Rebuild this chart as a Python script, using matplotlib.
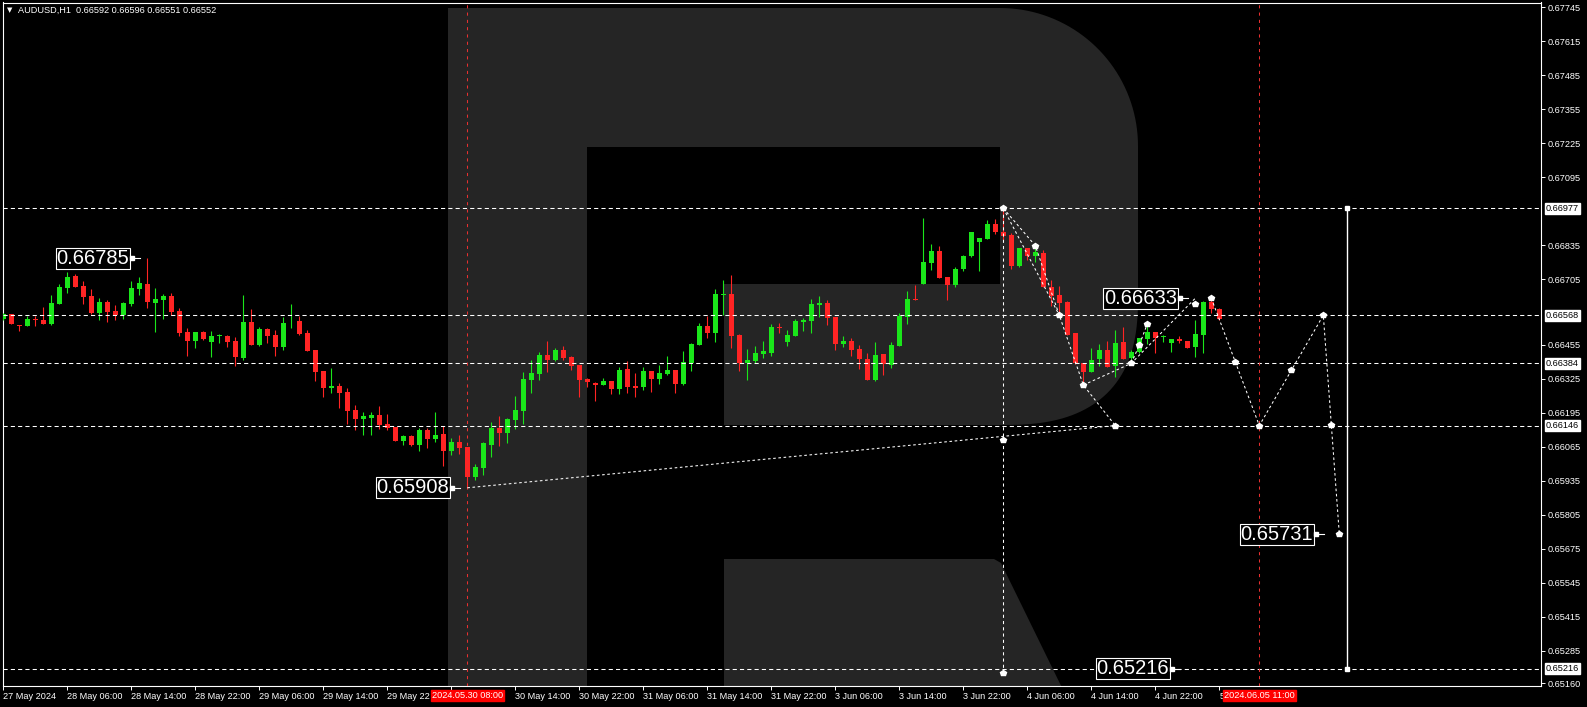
import numpy as np
import matplotlib.pyplot as plt
from matplotlib.patches import Polygon
from matplotlib.transforms import Affine2D

plt.rcParams['font.family'] = ['Liberation Sans', 'DejaVu Sans']

W, H = 1587, 707

# AUDUSD H1 bars, 27 May 22:00 -> 5 Jun 06:00 (weekend skipped)
opens = [0.66554, 0.66572, 0.66530, 0.66528, 0.66553, 0.66550, 0.66535, 0.66612, 0.66674, 0.66718,
         0.66680, 0.66642, 0.66577, 0.66619, 0.66584, 0.66568, 0.66611, 0.66669, 0.66688, 0.66615,
         0.66627, 0.66642, 0.66584, 0.66504, 0.66471, 0.66504, 0.66466, 0.66488, 0.66489, 0.66470,
         0.66405, 0.66542, 0.66454, 0.66516, 0.66493, 0.66447, 0.66537, 0.66546, 0.66500, 0.66435,
         0.66355, 0.66291, 0.66299, 0.66275, 0.66206, 0.66171, 0.66175, 0.66187, 0.66152, 0.66141,
         0.66087, 0.66106, 0.66072, 0.66129, 0.66095, 0.66114, 0.66049, 0.66083, 0.66064, 0.65950,
         0.65984, 0.66072, 0.66137, 0.66118, 0.66168, 0.66202, 0.66321, 0.66344, 0.66416, 0.66397,
         0.66435, 0.66409, 0.66378, 0.66324, 0.66309, 0.66302, 0.66317, 0.66286, 0.66363, 0.66298,
         0.66294, 0.66355, 0.66324, 0.66344, 0.66359, 0.66305, 0.66386, 0.66454, 0.66527, 0.66500,
         0.66647, 0.66649, 0.66493, 0.66386, 0.66393, 0.66420, 0.66424, 0.66523, 0.66466, 0.66489,
         0.66542, 0.66546, 0.66607, 0.66615, 0.66562, 0.66458, 0.66470, 0.66439, 0.66401, 0.66321,
         0.66420, 0.66378, 0.66451, 0.66562, 0.66630, 0.66688, 0.66768, 0.66814, 0.66714, 0.66684,
         0.66745, 0.66795, 0.66848, 0.66860, 0.66917, 0.66887, 0.66875, 0.66757, 0.66825, 0.66795,
         0.66806, 0.66676, 0.66646, 0.66619, 0.66500, 0.66386, 0.66351, 0.66401, 0.66435, 0.66374,
         0.66466, 0.66405, 0.66428, 0.66477, 0.66504, 0.66484, 0.66462, 0.66477, 0.66470, 0.66447,
         0.66493, 0.66619, 0.66592]
highs = [0.66577, 0.66573, 0.66531, 0.66565, 0.66565, 0.66599, 0.66646, 0.66687, 0.66734, 0.66726,
         0.66699, 0.66669, 0.66633, 0.66627, 0.66607, 0.66620, 0.66699, 0.66714, 0.66785, 0.66672,
         0.66649, 0.66653, 0.66596, 0.66519, 0.66505, 0.66508, 0.66508, 0.66496, 0.66493, 0.66485,
         0.66646, 0.66592, 0.66523, 0.66519, 0.66512, 0.66562, 0.66611, 0.66565, 0.66512, 0.66436,
         0.66356, 0.66366, 0.66309, 0.66290, 0.66225, 0.66198, 0.66198, 0.66221, 0.66190, 0.66142,
         0.66110, 0.66110, 0.66137, 0.66137, 0.66198, 0.66145, 0.66099, 0.66110, 0.66065, 0.65999,
         0.66083, 0.66160, 0.66183, 0.66175, 0.66259, 0.66351, 0.66397, 0.66428, 0.66470, 0.66443,
         0.66451, 0.66412, 0.66379, 0.66328, 0.66313, 0.66328, 0.66318, 0.66370, 0.66393, 0.66347,
         0.66370, 0.66356, 0.66378, 0.66412, 0.66360, 0.66432, 0.66462, 0.66539, 0.66565, 0.66669,
         0.66703, 0.66722, 0.66496, 0.66439, 0.66451, 0.66470, 0.66535, 0.66539, 0.66512, 0.66554,
         0.66558, 0.66630, 0.66642, 0.66627, 0.66563, 0.66489, 0.66481, 0.66454, 0.66424, 0.66466,
         0.66421, 0.66466, 0.66577, 0.66661, 0.66684, 0.66940, 0.66841, 0.66833, 0.66715, 0.66753,
         0.66799, 0.66888, 0.66865, 0.66932, 0.66936, 0.66977, 0.66883, 0.66826, 0.66826, 0.66833,
         0.66818, 0.66703, 0.66680, 0.66623, 0.66501, 0.66387, 0.66443, 0.66458, 0.66470, 0.66512,
         0.66523, 0.66435, 0.66482, 0.66531, 0.66505, 0.66493, 0.66478, 0.66489, 0.66471, 0.66550,
         0.66623, 0.66627, 0.66596]
lows = [0.66550, 0.66535, 0.66509, 0.66527, 0.66527, 0.66535, 0.66531, 0.66611, 0.66654, 0.66677,
        0.66611, 0.66574, 0.66551, 0.66542, 0.66550, 0.66555, 0.66604, 0.66647, 0.66596, 0.66505,
        0.66555, 0.66569, 0.66489, 0.66412, 0.66444, 0.66474, 0.66409, 0.66462, 0.66447, 0.66374,
        0.66397, 0.66454, 0.66451, 0.66462, 0.66412, 0.66435, 0.66521, 0.66493, 0.66430, 0.66317,
        0.66256, 0.66271, 0.66214, 0.66152, 0.66129, 0.66110, 0.66110, 0.66133, 0.66129, 0.66086,
        0.66072, 0.66068, 0.66049, 0.66061, 0.66083, 0.65992, 0.66034, 0.66038, 0.65908, 0.65938,
        0.65957, 0.66026, 0.66068, 0.66080, 0.66133, 0.66152, 0.66271, 0.66321, 0.66351, 0.66393,
        0.66397, 0.66359, 0.66256, 0.66294, 0.66240, 0.66300, 0.66267, 0.66267, 0.66271, 0.66256,
        0.66282, 0.66275, 0.66305, 0.66340, 0.66271, 0.66302, 0.66355, 0.66453, 0.66481, 0.66466,
        0.66568, 0.66443, 0.66355, 0.66321, 0.66386, 0.66405, 0.66412, 0.66500, 0.66451, 0.66488,
        0.66508, 0.66500, 0.66562, 0.66531, 0.66435, 0.66447, 0.66412, 0.66363, 0.66320, 0.66317,
        0.66340, 0.66366, 0.66450, 0.66535, 0.66626, 0.66687, 0.66741, 0.66710, 0.66627, 0.66676,
        0.66737, 0.66791, 0.66737, 0.66859, 0.66879, 0.66856, 0.66745, 0.66753, 0.66779, 0.66772,
        0.66675, 0.66604, 0.66577, 0.66492, 0.66382, 0.66309, 0.66350, 0.66374, 0.66369, 0.66332,
        0.66400, 0.66397, 0.66424, 0.66458, 0.66424, 0.66466, 0.66428, 0.66462, 0.66442, 0.66409,
        0.66424, 0.66577, 0.66551]
closes = [0.66573, 0.66536, 0.66528, 0.66554, 0.66551, 0.66536, 0.66615, 0.66676, 0.66714, 0.66677,
          0.66639, 0.66577, 0.66619, 0.66581, 0.66568, 0.66615, 0.66672, 0.66692, 0.66620, 0.66630,
          0.66642, 0.66581, 0.66500, 0.66471, 0.66504, 0.66477, 0.66489, 0.66490, 0.66466, 0.66409,
          0.66542, 0.66454, 0.66516, 0.66489, 0.66447, 0.66539, 0.66540, 0.66496, 0.66432, 0.66351,
          0.66290, 0.66299, 0.66271, 0.66202, 0.66171, 0.66183, 0.66187, 0.66149, 0.66137, 0.66087,
          0.66106, 0.66072, 0.66129, 0.66095, 0.66110, 0.66049, 0.66083, 0.66061, 0.65950, 0.65988,
          0.66080, 0.66137, 0.66118, 0.66171, 0.66206, 0.66324, 0.66347, 0.66416, 0.66397, 0.66435,
          0.66405, 0.66374, 0.66321, 0.66313, 0.66302, 0.66317, 0.66286, 0.66359, 0.66294, 0.66290,
          0.66355, 0.66324, 0.66347, 0.66359, 0.66305, 0.66389, 0.66458, 0.66527, 0.66500, 0.66649,
          0.66650, 0.66489, 0.66386, 0.66397, 0.66424, 0.66432, 0.66523, 0.66521, 0.66493, 0.66546,
          0.66550, 0.66611, 0.66615, 0.66558, 0.66458, 0.66470, 0.66435, 0.66401, 0.66321, 0.66416,
          0.66382, 0.66454, 0.66565, 0.66630, 0.66627, 0.66772, 0.66814, 0.66711, 0.66684, 0.66745,
          0.66795, 0.66887, 0.66864, 0.66917, 0.66887, 0.66871, 0.66757, 0.66825, 0.66795, 0.66810,
          0.66676, 0.66642, 0.66615, 0.66493, 0.66386, 0.66351, 0.66397, 0.66435, 0.66370, 0.66462,
          0.66401, 0.66428, 0.66481, 0.66504, 0.66481, 0.66485, 0.66477, 0.66470, 0.66443, 0.66496,
          0.66619, 0.66592, 0.66552]

# labels partly covered by the red time boxes show only their visible part
time_ticks = list(range(0, 153, 8))
time_labels = ['27 May 2024', '28 May 06:00', '28 May 14:00', '28 May 22:00', '29 May 06:00',
               '29 May 14:00', '29 May 22', '', '30 May 14:00', '30 May 22:00',
               '31 May 06:00', '31 May 14:00', '31 May 22:00', '3 Jun 06:00', '3 Jun 14:00',
               '3 Jun 22:00', '4 Jun 06:00', '4 Jun 14:00', '4 Jun 22:00', '5']
price_ticks = [0.67745, 0.67615, 0.67485, 0.67355, 0.67225, 0.67095, 0.66835, 0.66705,
               0.66455, 0.66325, 0.66195, 0.66065, 0.65935, 0.65805, 0.65675, 0.65545,
               0.65415, 0.65285, 0.65160]

levels = [0.66977, 0.66568, 0.66384, 0.66146, 0.65216]
vlines_red_k = [58, 157]
vlines_red_txt = ['2024.05.30 08:00', '2024.06.05 11:00']

tag_k = [18, 58, 149, 167, 148]
tag_p = [0.66785, 0.65908, 0.66633, 0.65731, 0.65216]
tag_gap = [18, 18, 18, 26, 18]

trend_k = [58, 139]
trend_p = [0.65908, 0.66146]
drop_k = [125, 129, 132, 135, 139]
drop_p = [0.66977, 0.66834, 0.66568, 0.66301, 0.66146]
drop2_k = [125, 132]
drop2_p = [0.66977, 0.66568]
rise_k = [135, 141, 149]
rise_p = [0.66301, 0.66384, 0.66633]
rise2_k = [141, 142, 143]
rise2_p = [0.66384, 0.66454, 0.66535]
fc_k = [151, 157, 165, 167]
fc_p = [0.66633, 0.66146, 0.66568, 0.65731]
mark_k = [125, 129, 132, 135, 139, 141, 142, 143, 149, 151, 154, 157, 161, 165, 166, 167, 125, 125]
mark_p = [0.66977, 0.66834, 0.66568, 0.66301, 0.66146, 0.66384, 0.66454, 0.66535, 0.66611,
          0.66633, 0.66389, 0.66146, 0.66359, 0.66568, 0.66150, 0.65731, 0.66091, 0.65200]
span_k = 168
span_p = [0.66977, 0.65216]

BG = '#000000'
UP = '#1ae61a'
DN = '#ff2424'
WM = '#252525'

fig = plt.figure(figsize=(W / 100, H / 100), dpi=100, facecolor=BG)
ax = fig.add_axes([2.5 / W, (H - 686) / H, (1541 - 2.5) / W, (686 - 2.5) / H], facecolor=BG)
ax.set_xlim(-0.1, 192.21)
ax.set_ylim(0.65150, 0.67764)
bar_px = (1541 - 2.5) / (192.21 + 0.1)

# watermark "R" drawn in image pixel coordinates
pix = Affine2D().scale(1, -1).translate(0, H)


def arc(cx, cy, rx, ry, t0, t1, ex=2.0, n=40):
    t = np.radians(np.linspace(t0, t1, n))
    c, s = np.cos(t), np.sin(t)
    return np.column_stack([cx + rx * np.sign(c) * np.abs(c) ** (2 / ex),
                            cy + ry * np.sign(s) * np.abs(s) ** (2 / ex)])


outline = np.vstack([[[448, 8], [1000, 8]],
                     arc(1000, 146, 138, 138, -90, 0),
                     arc(1000, 295, 138, 130, 0, 90, ex=2.6),
                     [[724, 425], [724, 284], [1000, 284], [1000, 147], [587, 147],
                      [587, 720], [448, 720]]])
ax.add_patch(Polygon(outline, closed=True, fc=WM, ec='none', transform=pix, zorder=0))
ax.add_patch(Polygon([[724, 559], [994, 559], [1001, 563], [1068, 700], [724, 700]],
                     closed=True, fc=WM, ec='none', transform=pix, zorder=0))

# candles
o, h, l, c = map(np.array, (opens, highs, lows, closes))
idx = np.arange(len(o))
cols = np.where(c >= o, UP, DN)
ax.vlines(idx, l, h, colors=cols, lw=0.8, zorder=3)
ax.bar(idx, np.maximum(np.abs(c - o), 0.00003), bottom=np.minimum(o, c), width=0.62,
       color=cols, lw=0, zorder=3)

# horizontal levels and red time markers
for v in levels:
    ax.axhline(v, color='white', lw=0.75, ls=(0, (4, 3)), zorder=4)
for k in vlines_red_k:
    ax.axvline(k, color='#e83030', lw=0.75, ls=(0, (3, 4)), zorder=4)

dot = dict(color='white', lw=0.75, ls=(0, (2.5, 2.5)), zorder=5)
ax.plot(trend_k, trend_p, **dot)
ax.plot(drop_k, drop_p, **dot)
ax.plot(drop2_k, drop2_p, **dot)
ax.plot(rise_k, rise_p, **dot)
ax.plot(rise2_k, rise2_p, **dot)
ax.plot(fc_k, fc_p, **dot)
ax.plot([125, 125], [0.66977, 0.65200], color='white', lw=0.75, ls=(0, (3, 3)), zorder=5)
ax.plot(mark_k, mark_p, ls='none', marker='p', ms=4, color='white', mec='white', zorder=6)
ax.plot([span_k, span_k], span_p, color='white', lw=1.0, zorder=5)
ax.plot([span_k, span_k], span_p, ls='none', marker='s', ms=3, color='white', zorder=6)

# price tags
for k, p, g in zip(tag_k, tag_p, tag_gap):
    ax.annotate(f'{p:.5f}', xy=(k, p), xytext=(-g, 0), textcoords='offset pixels',
                ha='right', va='center', color='white', fontsize=14.5,
                bbox=dict(boxstyle='square,pad=0.05', fc='black', ec='white', lw=0.8),
                zorder=8)
    ax.plot([k - (g - 2) / bar_px, k - (g - 11) / bar_px], [p, p], color='white', lw=0.8, zorder=8)
    ax.plot(k - (g - 3) / bar_px, p, marker='s', ms=2.5, color='white', zorder=8)

# axes styling
for s in ax.spines.values():
    s.set_color('white')
    s.set_linewidth(0.8)
ax.yaxis.tick_right()
ax.set_yticks(price_ticks)
ax.set_yticklabels([f'{v:.5f}' for v in price_ticks])
ax.set_xticks(time_ticks)
ax.set_xticklabels(time_labels, ha='left')
ax.tick_params(colors='white', labelsize=6.6, length=3, width=0.7, pad=1.5)
ax.tick_params(axis='x', pad=1.0)

for v in levels:
    ax.annotate(f'{v:.5f}', xy=(1, v), xycoords=('axes fraction', 'data'), xytext=(5, 0),
                textcoords='offset pixels', ha='left', va='center', color='black', fontsize=6.6,
                bbox=dict(boxstyle='square,pad=0.12', fc='white', ec='white'),
                zorder=20, annotation_clip=False)
for k, t in zip(vlines_red_k, vlines_red_txt):
    ax.annotate(t, xy=(k, 0), xycoords=('data', 'axes fraction'), xytext=(0, -9.5),
                textcoords='offset pixels', ha='center', va='center', color='white', fontsize=6.6,
                bbox=dict(boxstyle='square,pad=0.12', fc='#ff0000', ec='#ff0000'),
                zorder=20, annotation_clip=False)

fig.text(7 / W, 1 - 10.5 / H, '\u25bc', color='white', fontsize=5, va='center',
         family=['DejaVu Sans'])
fig.text(18 / W, 1 - 10.5 / H, 'AUDUSD,H1  0.66592 0.66596 0.66551 0.66552', color='white',
         fontsize=6.6, va='center')

fig.savefig('out.png', dpi=100, facecolor=BG)
